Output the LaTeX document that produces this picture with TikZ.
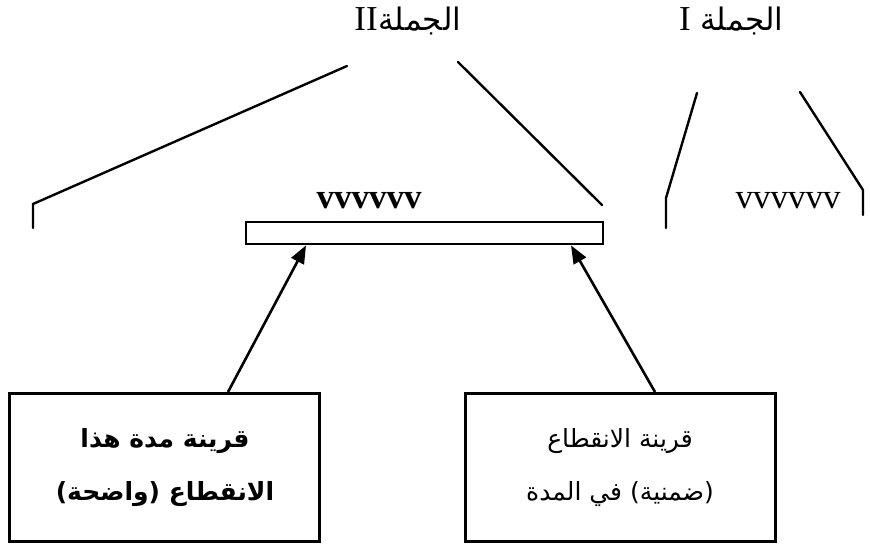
\documentclass[tikz,border=0pt]{standalone}
\usepackage{fontspec}
\setmainfont{Liberation Serif}
\newfontfamily\arabicfont[Script=Arabic]{DejaVu Sans}
\TeXXeTstate=1
\usetikzlibrary{arrows.meta,calc}
\tikzset{
  tree/.style={line width=2.4pt, line cap=round},
  box/.style={draw, line width=2.6pt, minimum width=310pt, minimum height=148pt, inner sep=0pt},
  boxtext/.style={inner sep=0pt, font=\arabicfont\fontsize{25}{30}\selectfont},
  boldtext/.style={inner sep=0pt, font=\arabicfont\bfseries\fontsize{25}{30}\selectfont},
  arrowline/.style={line width=2.6pt, -{Triangle[length=18pt,width=14pt]}},
  serif/.style={inner sep=0pt, font=\fontsize{35}{40}\selectfont},
  artitle/.style={inner sep=0pt, font=\arabicfont\fontsize{31}{36}\selectfont}
}
\begin{document}
\begin{tikzpicture}[x=1pt,y=-1pt]
\useasboundingbox (0,0) rectangle (870,545);
% titles
\node[serif, anchor=base east] (t2r) at (378,31) {II};
\node[artitle, anchor=base west] (t2) at (t2r.base east) {\beginR الجملة\endR};
\node[serif, anchor=base east] (t1r) at (691,31) {I};
\node[artitle, anchor=base west] (t1) at (700,31) {\beginR الجملة\endR};
% big tree (sentence II)
\draw[tree] (347,66) -- (33,204) -- (33,228);
\draw[tree] (458,62) -- (602,205);
% small tree (sentence I)
\draw[tree] (697,93) -- (666,198) -- (666,228);
\draw[tree] (800,92) -- (863,190) -- (863,215);
% bar
\node[draw, line width=2.4pt, minimum width=357pt, minimum height=22pt, inner sep=0pt, anchor=north west] (bar) at (245,221) {};
\node[serif, font=\fontsize{35}{40}\selectfont\bfseries] (v2) at (369,201) {vvvvvv};
\node[serif] (v1) at (788,201) {vvvvvv};
% boxes
\node[box, anchor=north west] (lbox) at (8,392) {};
\node[box, anchor=north west] (rbox) at (464,392) {};
\node[boldtext] (l1) at (165,441) {\beginR قرينة مدة هذا\endR};
\node[boldtext] (l2) at (165,494) {\beginR الانقطاع (واضحة)\endR};
\node[boxtext] (r1) at (620,441) {\beginR قرينة الانقطاع\endR};
\node[boxtext] (r2) at (620,494) {\beginR (ضمنية) في المدة\endR};
% arrows
\draw[arrowline] ($(lbox.north west)+(220,0)$) -- ($(bar.south west)+(61,0)$);
\draw[arrowline] ($(rbox.north west)+(191,0)$) -- ($(bar.south west)+(326,0)$);
\end{tikzpicture}
\end{document}
